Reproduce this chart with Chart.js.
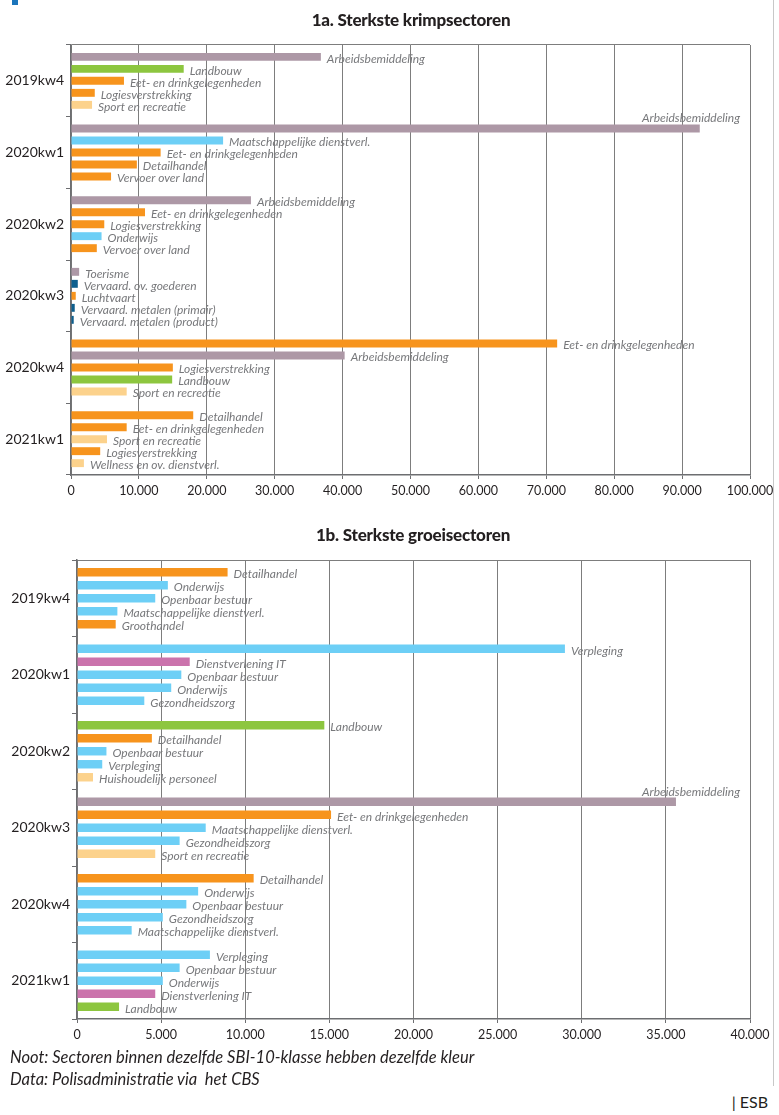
<!DOCTYPE html>
<html>
<head>
<meta charset="utf-8">
<script src="https://cdn.jsdelivr.net/npm/chart.js@4"></script>
<style>
  body { margin: 0; background: #fff; width: 779px; height: 1115px; position: relative; overflow: hidden; font-family: Lato, sans-serif; }
  .box { position: absolute; left: 0; width: 779px; }
  #krimpBox { top: 0; height: 505px; }
  #groeiBox { top: 518px; height: 531px; }
  .title { position: absolute; width: 400px; text-align: center; font-size: 17px; font-weight: 900; color: #231f20; letter-spacing: -0.2px; }
  .note { position: absolute; left: 10px; font-style: italic; font-size: 16.5px; color: #231f20; }
  #esb { position: absolute; right: 11px; top: 1092px; font-size: 16px; color: #231f20; }
  #edge { position: absolute; left: 773px; top: 0; width: 1px; height: 1086px; background: #c8c8c8; }
  #mark { position: absolute; left: 12px; top: 0; width: 6px; height: 5px; background: #1b75bb; }
</style>
</head>
<body>
<div id="mark"></div>
<div id="edge"></div>
<div class="box" id="krimpBox"><canvas id="krimpChart"></canvas></div>
<div class="box" id="groeiBox"><canvas id="groeiChart"></canvas></div>
<div class="title" style="left:211px; top:9px">1a. Sterkste krimpsectoren</div>
<div class="title" style="left:213px; top:524px">1b. Sterkste groeisectoren</div>
<div class="note" style="top:1047px">Noot: Sectoren binnen dezelfde SBI-10-klasse hebben dezelfde kleur</div>
<div class="note" style="top:1069px">Data: Polisadministratie via&nbsp; het CBS</div>
<div id="esb">| ESB</div>

<script>
const quarters = ["2019kw4", "2020kw1", "2020kw2", "2020kw3", "2020kw4", "2021kw1"];

// 1a. krimp
const krimpSectors = [
  ["Arbeidsbemiddeling", "Landbouw", "Eet- en drinkgelegenheden", "Logiesverstrekking", "Sport en recreatie"],
  ["Arbeidsbemiddeling", "Maatschappelijke dienstverl.", "Eet- en drinkgelegenheden", "Detailhandel", "Vervoer over land"],
  ["Arbeidsbemiddeling", "Eet- en drinkgelegenheden", "Logiesverstrekking", "Onderwijs", "Vervoer over land"],
  ["Toerisme", "Vervaard. ov. goederen", "Luchtvaart", "Vervaard. metalen (primair)", "Vervaard. metalen (product)"],
  ["Eet- en drinkgelegenheden", "Arbeidsbemiddeling", "Logiesverstrekking", "Landbouw", "Sport en recreatie"],
  ["Detailhandel", "Eet- en drinkgelegenheden", "Sport en recreatie", "Logiesverstrekking", "Wellness en ov. dienstverl."]
];
const krimpValues = [
  [36800, 16600, 7800, 3500, 3100],
  [92600, 22400, 13200, 9700, 5900],
  [26500, 10900, 4900, 4500, 3800],
  [1200, 1000, 700, 550, 400],
  [71600, 40300, 15000, 14900, 8200],
  [18000, 8200, 5300, 4300, 1900]
];
const krimpTicks = [0, 10000, 20000, 30000, 40000, 50000, 60000, 70000, 80000, 90000, 100000];

// 1b. groei
const groeiSectors = [
  ["Detailhandel", "Onderwijs", "Openbaar bestuur", "Maatschappelijke dienstverl.", "Groothandel"],
  ["Verpleging", "Dienstverlening IT", "Openbaar bestuur", "Onderwijs", "Gezondheidszorg"],
  ["Landbouw", "Detailhandel", "Openbaar bestuur", "Verpleging", "Huishoudelijk personeel"],
  ["Arbeidsbemiddeling", "Eet- en drinkgelegenheden", "Maatschappelijke dienstverl.", "Gezondheidszorg", "Sport en recreatie"],
  ["Detailhandel", "Onderwijs", "Openbaar bestuur", "Gezondheidszorg", "Maatschappelijke dienstverl."],
  ["Verpleging", "Openbaar bestuur", "Onderwijs", "Dienstverlening IT", "Landbouw"]
];
const groeiValues = [
  [8950, 5400, 4650, 2400, 2300],
  [29000, 6700, 6200, 5600, 4000],
  [14700, 4450, 1750, 1500, 950],
  [35600, 15100, 7650, 6100, 4650],
  [10500, 7200, 6500, 5100, 3250],
  [7900, 6100, 5100, 4650, 2500]
];
const groeiTicks = [0, 5000, 10000, 15000, 20000, 25000, 30000, 35000, 40000];

// kleur per SBI-klasse
const mauve = "#ad98a6", green = "#8dc63f", orange = "#f7941d", lightOrange = "#fcd28c",
      lightBlue = "#6dcff6", darkBlue = "#0e5f8e", pink = "#cb73ac";
const sectorColors = {
  "Arbeidsbemiddeling": mauve, "Toerisme": mauve,
  "Landbouw": green,
  "Eet- en drinkgelegenheden": orange, "Logiesverstrekking": orange, "Detailhandel": orange,
  "Vervoer over land": orange, "Luchtvaart": orange, "Groothandel": orange,
  "Sport en recreatie": lightOrange, "Wellness en ov. dienstverl.": lightOrange, "Huishoudelijk personeel": lightOrange,
  "Maatschappelijke dienstverl.": lightBlue, "Onderwijs": lightBlue, "Openbaar bestuur": lightBlue,
  "Verpleging": lightBlue, "Gezondheidszorg": lightBlue,
  "Vervaard. ov. goederen": darkBlue, "Vervaard. metalen (primair)": darkBlue, "Vervaard. metalen (product)": darkBlue,
  "Dienstverlening IT": pink
};

function formatNl(v) {
  return String(v).replace(/\B(?=(\d{3})+(?!\d))/g, ".");
}

const barLabels = {
  id: "barLabels",
  afterDatasetsDraw(chart) {
    const ctx = chart.ctx;
    const area = chart.chartArea;
    ctx.save();
    ctx.font = "italic 12px Lato";
    ctx.fillStyle = "#77787b";
    ctx.textBaseline = "middle";
    chart.data.datasets.forEach((ds, di) => {
      chart.getDatasetMeta(di).data.forEach((bar, i) => {
        const text = ds.names[i];
        const w = ctx.measureText(text).width;
        if (bar.x + 6 + w > area.right - 4) {
          // no room next to the bar: put it above, flush right
          ctx.textAlign = "right";
          ctx.fillText(text, area.right - 10, bar.y - 10);
        } else {
          ctx.textAlign = "left";
          ctx.fillText(text, bar.x + 6, bar.y + 2);
        }
      });
    });
    ctx.restore();
  }
};

function makeChart(canvasId, sectors, values, ticks, opts) {
  const datasets = [0, 1, 2, 3, 4].map(r => ({
    data: quarters.map((q, i) => values[i][r]),
    names: quarters.map((q, i) => sectors[i][r]),
    backgroundColor: quarters.map((q, i) => sectorColors[sectors[i][r]]),
    categoryPercentage: opts.catPct,
    barPercentage: opts.barPct
  }));

  return new Chart(document.getElementById(canvasId), {
    type: "bar",
    data: { labels: quarters, datasets: datasets },
    plugins: [barLabels],
    options: {
      indexAxis: "y",
      responsive: true,
      maintainAspectRatio: false,
      animation: false,
      layout: { padding: { left: 0, right: 29, top: opts.top, bottom: 0 } },
      plugins: {
        legend: { display: false },
        tooltip: { enabled: false }
      },
      scales: {
        x: {
          min: 0,
          max: ticks[ticks.length - 1],
          afterBuildTicks: (scale) => { scale.ticks = ticks.map(v => ({ value: v })); },
          afterFit: (scale) => { scale.height = 30; },
          grid: { color: "#7d7d7d", lineWidth: 1, tickLength: 4, tickColor: "#6d6e71" },
          border: { color: "#6d6e71", width: 1.5 },
          ticks: {
            color: "#231f20",
            font: { family: "Lato", size: 12.5 },
            padding: 4,
            maxRotation: 0,
            callback: (v) => formatNl(v)
          }
        },
        y: {
          afterFit: (scale) => { scale.width = opts.axisLeft; },
          grid: {
            offset: true,
            drawOnChartArea: true,
            color: (c) => c.index === 0 ? "#7d7d7d" : "rgba(0,0,0,0)",
            tickColor: "#6d6e71",
            tickLength: 5
          },
          border: { color: "#6d6e71", width: 1.5 },
          ticks: {
            color: "#231f20",
            font: { family: "Lato", size: 14 },
            padding: 2
          }
        }
      }
    }
  });
}

makeChart("krimpChart", krimpSectors, krimpValues, krimpTicks,
  { catPct: 0.837, barPct: 0.66, axisLeft: 71, top: 45 });
makeChart("groeiChart", groeiSectors, groeiValues, groeiTicks,
  { catPct: 0.85, barPct: 0.65, axisLeft: 77, top: 42 });
</script>
</body>
</html>
